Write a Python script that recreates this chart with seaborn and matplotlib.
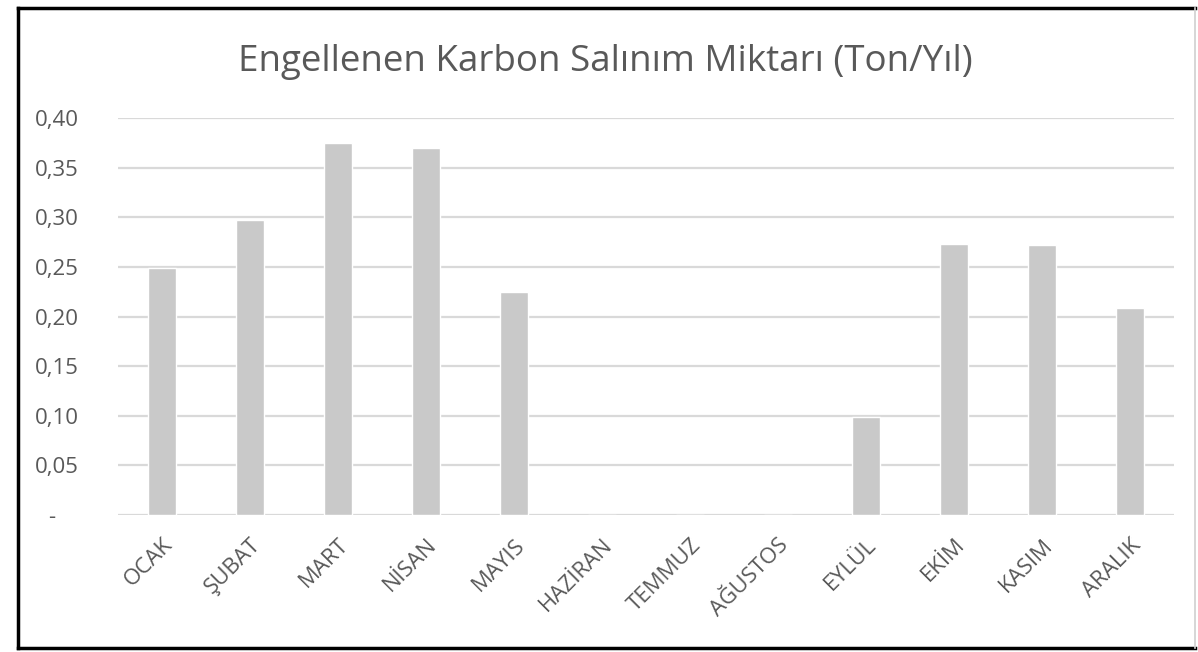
import matplotlib
matplotlib.use("Agg")
import matplotlib.pyplot as plt
from matplotlib.lines import Line2D
import seaborn as sns
import pandas as pd

months = ["OCAK", "ŞUBAT", "MART", "NİSAN", "MAYIS", "HAZİRAN",
          "TEMMUZ", "AĞUSTOS", "EYLÜL", "EKİM", "KASIM", "ARALIK"]
values = [0.249, 0.297, 0.375, 0.370, 0.225, 0.0,
          0.0, 0.0, 0.099, 0.273, 0.272, 0.209]
yticks = [0.0, 0.05, 0.10, 0.15, 0.20, 0.25, 0.30, 0.35, 0.40]
ytick_labels = ["-", "0,05", "0,10", "0,15", "0,20", "0,25", "0,30", "0,35", "0,40"]
title = "Engellenen Karbon Salınım Miktarı (Ton/Yıl)"

sns.set_theme(style="white")
plt.rcParams['font.family'] = ['Open Sans', 'DejaVu Sans']

df = pd.DataFrame({"month": months, "value": values})

W, H = 1198, 652
fig = plt.figure(figsize=(W / 100, H / 100), dpi=100)
fig.patch.set_facecolor("white")
ax = fig.add_axes([118 / W, 1 - 515 / H, (1174 - 118) / W, (515 - 118) / H])

sns.barplot(data=df, x="month", y="value", color="#c9c9c9", saturation=1,
            width=0.31, ax=ax, zorder=3)

ax.set_ylim(0, 0.40)
ax.set_xlim(-0.5, len(months) - 0.5)
ax.set_yticks(yticks)
ax.set_yticklabels([l if l != "-" else "-    " for l in ytick_labels])
ax.yaxis.grid(True, color="#d9d9d9", linewidth=1.6, zorder=0)
ax.set_axisbelow(True)
for s in ax.spines.values():
    s.set_visible(False)
ax.set_xlabel("")
ax.set_ylabel("")
ax.tick_params(axis="y", length=0, pad=28, labelsize=16, labelcolor="#595959")
ax.tick_params(axis="x", length=0, pad=14, labelsize=16, labelcolor="#595959")
for lab in ax.get_xticklabels():
    lab.set_rotation(45)
    lab.set_ha("right")
    lab.set_rotation_mode("anchor")

fig.text(605 / W, 1 - 62 / H, title, ha="center", va="center", fontsize=26.5,
         color="#595959")

# outer frame
def fl(x0, y0, x1, y1, c, lw):
    fig.add_artist(Line2D([x0 / W, x1 / W], [1 - y0 / H, 1 - y1 / H],
                          transform=fig.transFigure, color=c, linewidth=lw,
                          solid_capstyle="projecting"))

fl(18, 8, 1195, 8, "black", 2.5)
fl(18, 648, 1195, 648, "black", 2.5)
fl(18, 8, 18, 648, "black", 2.5)
fl(1195, 8, 1195, 648, "#d0d0d0", 1.2)

fig.savefig("out.png", dpi=100, facecolor="white")
